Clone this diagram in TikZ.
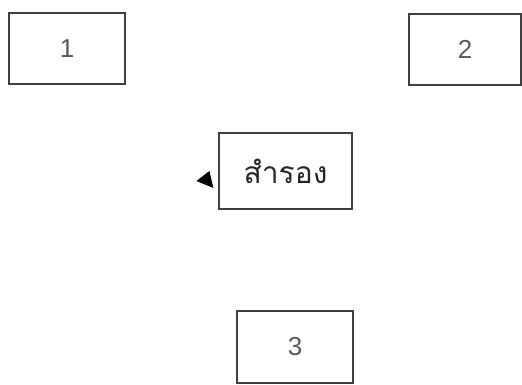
\documentclass[tikz,border=0pt]{standalone}
\usepackage{fontspec}
\setmainfont{Liberation Sans}
\newfontfamily\thaifont[Script=Thai]{Loma}
\usetikzlibrary{positioning}

\begin{document}
\begin{tikzpicture}[x=1pt, y=-1pt,
    block/.style={draw=black!75, line width=1.2pt, rectangle, minimum width=116pt, minimum height=71pt, inner sep=0pt, text=black!65, font=\fontsize{26}{26}\selectfont},
    marker/.style={fill=black}
]
\useasboundingbox (0,0) rectangle (522,384);
\node[block] (one) at (67,48.5) {1};
\node[block, minimum width=112pt] (two) at (465,49.5) {2};
\node[block, minimum width=133pt, minimum height=76pt, text=black!85, font=\thaifont\fontsize{30}{30}\selectfont] (spare) at (285.5,171) {สำรอง};
\node[block, minimum height=72pt] (three) at (295,347) {3};

\fill[marker] ([shift={(-22,10)}]spare.west) -- ([shift={(-9,0)}]spare.west) -- ([shift={(-5,17)}]spare.west) -- cycle;
\end{tikzpicture}
\end{document}
